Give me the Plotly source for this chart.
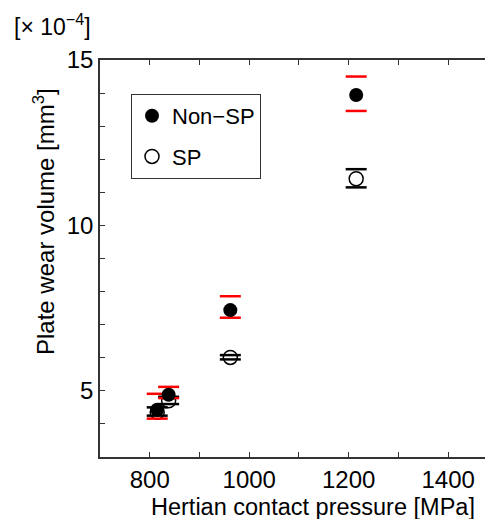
import plotly.graph_objects as go

# Data
pressure = [815, 838, 962, 1215]
nonsp_mean = [4.43, 4.88, 7.44, 13.94]
nonsp_upper = [4.91, 5.12, 7.86, 14.50]
nonsp_lower = [4.16, 4.78, 7.21, 13.46]
sp_mean = [4.35, 4.70, 6.01, 11.41]
sp_upper = [4.50, 4.82, 6.08, 11.70]
sp_lower = [4.25, 4.60, 5.95, 11.15]

x_ticks = [700, 800, 900, 1000, 1100, 1200, 1300, 1400]
x_ticklabels = ["", "800", "", "1000", "", "1200", "", "1400"]
y_ticks = [3, 4, 5, 6, 7, 8, 9, 10, 11, 12, 13, 14, 15]
y_ticklabels = ["", "", "5", "", "", "", "", "10", "", "", "", "", "15"]

FONT = "Liberation Sans, Arial, sans-serif"

fig = go.Figure()

# SP error caps (black)
fig.add_trace(go.Scatter(
    x=pressure + pressure, y=sp_upper + sp_lower, mode="markers",
    marker=dict(symbol="line-ew", size=15, line=dict(color="black", width=2.5)),
    showlegend=False, hoverinfo="skip", legendgroup="b"))
# SP markers
fig.add_trace(go.Scatter(
    x=pressure, y=sp_mean, mode="markers", name="SP",
    marker=dict(symbol="circle-open", size=14, color="black", line=dict(color="black", width=1.5)),
    legendgroup="b", legendrank=2))
# Non-SP error caps (red)
fig.add_trace(go.Scatter(
    x=pressure + pressure, y=nonsp_upper + nonsp_lower, mode="markers",
    marker=dict(symbol="line-ew", size=15, line=dict(color="red", width=2.5)),
    showlegend=False, hoverinfo="skip", legendgroup="a"))
# Non-SP markers
fig.add_trace(go.Scatter(
    x=pressure, y=nonsp_mean, mode="markers", name="Non\u2212SP",
    marker=dict(symbol="circle", size=14, color="black"),
    legendgroup="a", legendrank=1))

fig.update_layout(
    width=485, height=519,
    margin=dict(l=100, r=0, t=60, b=62),
    paper_bgcolor="white", plot_bgcolor="white",
    font=dict(family=FONT, size=23, color="black"),
    xaxis=dict(range=[700, 1474], tickvals=x_ticks, ticktext=x_ticklabels,
               ticks="inside", ticklen=5, tickwidth=1, tickcolor="#333",
               showline=True, linecolor="#333", linewidth=1.5, mirror="ticks",
               showgrid=False, zeroline=False, tickfont=dict(size=24)),
    yaxis=dict(range=[3, 15], tickvals=y_ticks, ticktext=y_ticklabels,
               ticks="inside", ticklen=5, tickwidth=1, tickcolor="#333",
               showline=True, linecolor="#333", linewidth=1.5,
               showgrid=False, zeroline=False, tickfont=dict(size=24)),
    legend=dict(x=(131 - 100) / 385, y=(457 - 94) / 397, xanchor="left", yanchor="top",
                bordercolor="#333", borderwidth=1, bgcolor="white",
                font=dict(size=22), traceorder="grouped", tracegroupgap=9, itemwidth=30),
    showlegend=True,
)

fig.add_annotation(text="Hertian contact pressure [MPa]", xref="paper", yref="paper",
                   x=(313 - 100) / 385, y=-(507 - 457) / 397, xanchor="center", yanchor="middle",
                   showarrow=False, font=dict(size=23.5))
fig.add_annotation(text="Plate wear volume [mm<sup>3</sup>]", xref="paper", yref="paper",
                   x=-(100 - 44) / 385, y=(457 - 222) / 397, xanchor="center", yanchor="middle",
                   textangle=-90, showarrow=False, font=dict(size=24))
fig.add_annotation(text="[\u00d7 10<sup>\u22124</sup>]", xref="paper", yref="paper",
                   x=-(100 - 12) / 385, y=(457 - 25) / 397, xanchor="left", yanchor="middle",
                   showarrow=False, font=dict(size=23))

fig.write_html("out.html")
